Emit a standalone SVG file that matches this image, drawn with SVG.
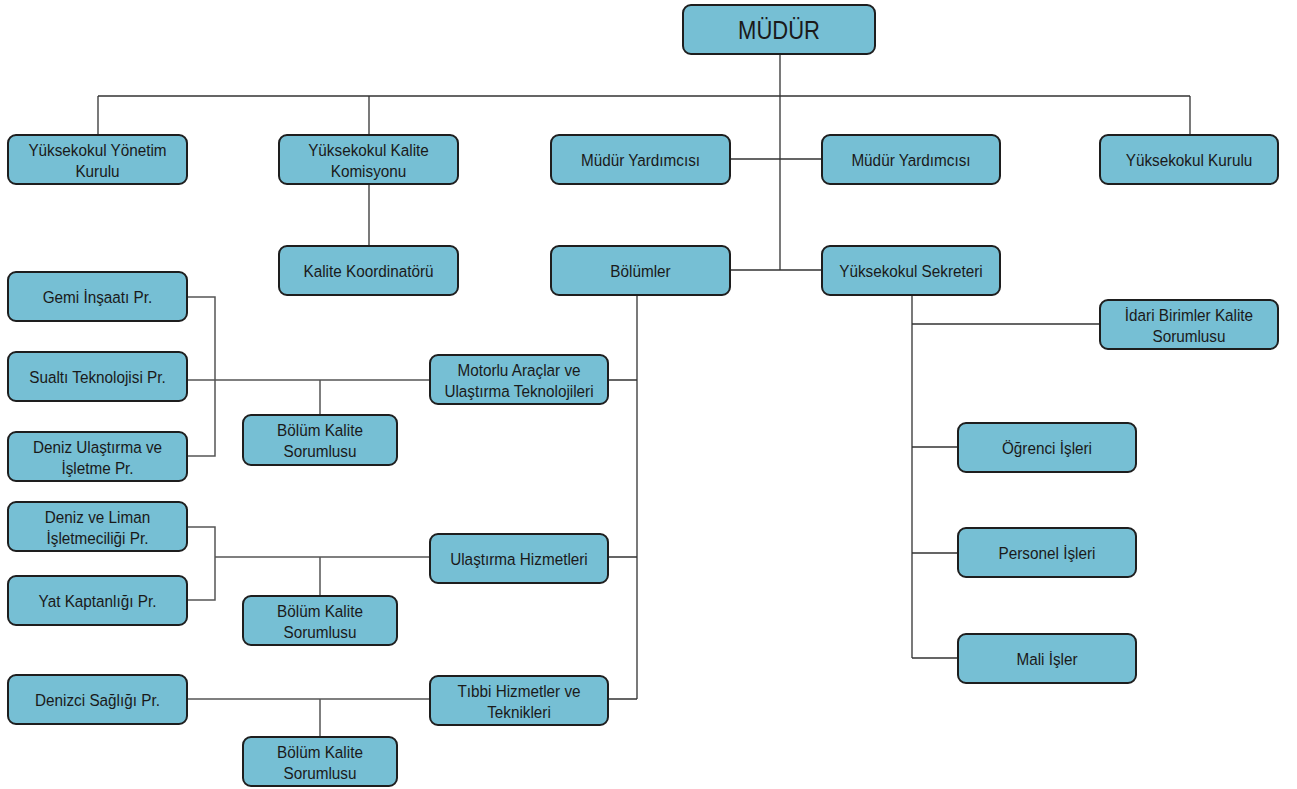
<svg xmlns="http://www.w3.org/2000/svg" width="1297" height="789" viewBox="0 0 1297 789">
<style>
.box{fill:#76bfd4;stroke:#1e1e1e;stroke-width:2}
.t{font-family:"Liberation Sans",Arial,sans-serif;font-size:17px;fill:#1a1a1a;text-anchor:middle;transform-box:fill-box;transform-origin:center;transform:scaleX(0.9)}
.big{font-size:25px;transform:scaleX(0.88)}
.c{fill:none;stroke:#333;stroke-width:1.3}
.g{stroke:#555;stroke-width:1.5}
</style>
<rect width="1297" height="789" fill="#fff"/>
<g id="connectors">
<path class="c" d="M780 54V270M98 96H1190M98 96V135M369 96V135M1190 96V135M730 159H822M730 270H822M369 184V246"/>
<path class="c" d="M637 295V699M608 380H637M608 557H637M608 699H637"/>
<path class="c" d="M912 295V658M912 324H1100M912 447H958M912 553H958M912 658H958"/>
<path class="c g" d="M187 297H215V456H187M187 380H430M320 380V415"/>
<path class="c g" d="M187 527H215V600H187M215 557H430M320 557V596"/>
<path class="c g" d="M187 699H430M320 699V737"/>
</g>
<g id="mudur"><rect class="box" x="683" y="5" width="192" height="49" rx="8"/><text class="t big" x="779" y="39">MÜDÜR</text></g>
<g id="yonetim"><rect class="box" x="8" y="135" width="179" height="49" rx="8"/><text class="t" x="97.5" y="156">Yüksekokul Yönetim</text><text class="t" x="97.5" y="177">Kurulu</text></g>
<g id="kalite-kom"><rect class="box" x="279" y="135" width="179" height="49" rx="8"/><text class="t" x="368.5" y="156">Yüksekokul Kalite</text><text class="t" x="368.5" y="177">Komisyonu</text></g>
<g id="yard1"><rect class="box" x="551" y="135" width="179" height="49" rx="8"/><text class="t" x="640.5" y="166">Müdür Yardımcısı</text></g>
<g id="yard2"><rect class="box" x="822" y="135" width="178" height="49" rx="8"/><text class="t" x="911" y="166">Müdür Yardımcısı</text></g>
<g id="kurul"><rect class="box" x="1100" y="135" width="178" height="49" rx="8"/><text class="t" x="1189" y="166">Yüksekokul Kurulu</text></g>
<g id="kalite-koord"><rect class="box" x="279" y="246" width="179" height="49" rx="8"/><text class="t" x="368.5" y="277">Kalite Koordinatörü</text></g>
<g id="bolumler"><rect class="box" x="551" y="246" width="179" height="49" rx="8"/><text class="t" x="640.5" y="277">Bölümler</text></g>
<g id="sekreter"><rect class="box" x="822" y="246" width="178" height="49" rx="8"/><text class="t" x="911" y="277">Yüksekokul Sekreteri</text></g>
<g id="idari"><rect class="box" x="1100" y="300" width="178" height="49" rx="8"/><text class="t" x="1189" y="321">İdari Birimler Kalite</text><text class="t" x="1189" y="342">Sorumlusu</text></g>
<g id="ogrenci"><rect class="box" x="958" y="423" width="178" height="49" rx="8"/><text class="t" x="1047" y="454">Öğrenci İşleri</text></g>
<g id="personel"><rect class="box" x="958" y="528" width="178" height="49" rx="8"/><text class="t" x="1047" y="559">Personel İşleri</text></g>
<g id="mali"><rect class="box" x="958" y="634" width="178" height="49" rx="8"/><text class="t" x="1047" y="665">Mali İşler</text></g>
<g id="gemi"><rect class="box" x="8" y="272" width="179" height="49" rx="8"/><text class="t" x="97.5" y="303">Gemi İnşaatı Pr.</text></g>
<g id="sualti"><rect class="box" x="8" y="352" width="179" height="49" rx="8"/><text class="t" x="97.5" y="383">Sualtı Teknolojisi Pr.</text></g>
<g id="deniz-ul"><rect class="box" x="8" y="432" width="179" height="49" rx="8"/><text class="t" x="97.5" y="453">Deniz Ulaştırma ve</text><text class="t" x="97.5" y="474">İşletme Pr.</text></g>
<g id="motorlu"><rect class="box" x="430" y="355" width="178" height="49" rx="8"/><text class="t" x="519" y="376">Motorlu Araçlar ve</text><text class="t" x="519" y="397">Ulaştırma Teknolojileri</text></g>
<g id="bks1"><rect class="box" x="243" y="415" width="154" height="50" rx="8"/><text class="t" x="320" y="436">Bölüm Kalite</text><text class="t" x="320" y="457">Sorumlusu</text></g>
<g id="liman"><rect class="box" x="8" y="502" width="179" height="49" rx="8"/><text class="t" x="97.5" y="523">Deniz ve Liman</text><text class="t" x="97.5" y="544">İşletmeciliği Pr.</text></g>
<g id="yat"><rect class="box" x="8" y="576" width="179" height="49" rx="8"/><text class="t" x="97.5" y="607">Yat Kaptanlığı Pr.</text></g>
<g id="ulastirma"><rect class="box" x="430" y="534" width="178" height="49" rx="8"/><text class="t" x="519" y="565">Ulaştırma Hizmetleri</text></g>
<g id="bks2"><rect class="box" x="243" y="596" width="154" height="49" rx="8"/><text class="t" x="320" y="617">Bölüm Kalite</text><text class="t" x="320" y="638">Sorumlusu</text></g>
<g id="denizci"><rect class="box" x="8" y="675" width="179" height="49" rx="8"/><text class="t" x="97.5" y="706">Denizci Sağlığı Pr.</text></g>
<g id="tibbi"><rect class="box" x="430" y="676" width="178" height="49" rx="8"/><text class="t" x="519" y="697">Tıbbi Hizmetler ve</text><text class="t" x="519" y="718">Teknikleri</text></g>
<g id="bks3"><rect class="box" x="243" y="737" width="154" height="49" rx="8"/><text class="t" x="320" y="758">Bölüm Kalite</text><text class="t" x="320" y="779">Sorumlusu</text></g>
</svg>
